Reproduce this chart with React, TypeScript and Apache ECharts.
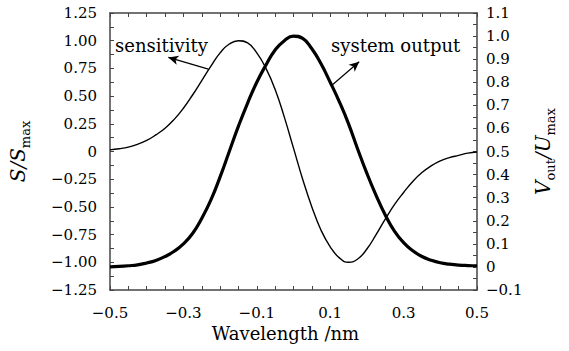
import React, { useEffect, useRef } from "react";
import * as echarts from "echarts";

// Wavelength (nm)
const wavelength = [
  -0.5, -0.475, -0.45, -0.425, -0.4, -0.375, -0.35, -0.325, -0.3, -0.275,
  -0.25, -0.225, -0.2, -0.175, -0.15, -0.125, -0.1, -0.075, -0.05, -0.025,
  0, 0.025, 0.05, 0.075, 0.1, 0.125, 0.15, 0.175, 0.2, 0.225,
  0.25, 0.275, 0.3, 0.325, 0.35, 0.375, 0.4, 0.425, 0.45, 0.475, 0.5,
];

// S/Smax (left axis)
const sensitivity = [
  0.015, 0.025, 0.04, 0.065, 0.1, 0.15, 0.21, 0.29, 0.39, 0.51,
  0.64, 0.77, 0.89, 0.97, 1.0, 0.98, 0.89, 0.75, 0.56, 0.31,
  0.03, -0.25, -0.5, -0.71, -0.86, -0.96, -1.0, -0.97, -0.88, -0.75,
  -0.61, -0.48, -0.37, -0.27, -0.19, -0.13, -0.085, -0.055, -0.035, -0.015, -0.005,
];

// Vout/Umax (right axis)
const systemOutput = [
  0.0, 0.002, 0.005, 0.009, 0.017, 0.028, 0.045, 0.068, 0.1, 0.145,
  0.21, 0.29, 0.39, 0.5, 0.61, 0.71, 0.8, 0.875, 0.94, 0.98,
  1.0, 0.99, 0.945, 0.88, 0.8, 0.715, 0.62, 0.51, 0.405, 0.31,
  0.225, 0.155, 0.105, 0.07, 0.045, 0.029, 0.018, 0.012, 0.008, 0.006, 0.005,
];

// Annotation arrows (data coordinates: tail, head)
const sensitivityArrow = [[-0.232, 0.744], [-0.341, 0.849]];
const outputArrow = [[0.107, 0.79], [0.179, 0.889]];

const FONT = '"DejaVu Serif", serif';
const INK = "#000";
const AXIS = "#444";
const minus = (s: string) => s.replace("-", "\u2212");

export default function App() {
  const ref = useRef<HTMLDivElement>(null);
  useEffect(() => {
    const chart = echarts.init(ref.current!, null, { renderer: "svg" });
    const axisLine = { show: true, onZero: false, lineStyle: { color: AXIS, width: 1.5 } };
    const axisTick = { show: true, inside: true, length: 4, lineStyle: { color: AXIS, width: 1 } };
    const nameRich = {
      i: { fontFamily: FONT, fontStyle: "italic", fontSize: 20, lineHeight: 28, verticalAlign: "middle", color: INK },
      sub: { fontFamily: FONT, fontSize: 13, lineHeight: 28, verticalAlign: "bottom", color: INK },
    };
    chart.setOption({
      animation: false,
      backgroundColor: "#fff",
      grid: { left: 107, right: 92, top: 13, bottom: 61 },
      xAxis: [
        {
          type: "value",
          min: -0.5,
          max: 0.5,
          interval: 0.05,
          position: "bottom",
          axisLine,
          axisTick,
          splitLine: { show: false },
          axisLabel: {
            fontFamily: FONT,
            fontSize: 15,
            color: INK,
            margin: 15,
            formatter: (v: number) => {
              const k = Math.round((v + 0.5) / 0.05);
              if (k % 4 !== 0) return "";
              return minus((-0.5 + k * 0.05).toFixed(1));
            },
          },
          name: "Wavelength /nm",
          nameLocation: "middle",
          nameGap: 34,
          nameTextStyle: { fontFamily: FONT, fontSize: 18, color: INK, padding: [0, 16, 0, 0] },
        },
        {
          type: "value",
          min: -0.5,
          max: 0.5,
          interval: 0.05,
          position: "top",
          axisLine,
          axisTick,
          splitLine: { show: false },
          axisLabel: { show: false },
        },
      ],
      yAxis: [
        {
          type: "value",
          min: -1.25,
          max: 1.25,
          interval: 0.125,
          position: "left",
          axisLine,
          axisTick,
          splitLine: { show: false },
          axisLabel: {
            fontFamily: FONT,
            fontSize: 15,
            color: INK,
            margin: 13,
            formatter: (v: number) => {
              const k = Math.round(v / 0.125);
              if (k % 2 !== 0) return "";
              const val = k / 8;
              if (val === 0) return "0";
              return minus(val.toFixed(2));
            },
          },
          name: "{i|S/S}{sub|max}",
          nameLocation: "middle",
          nameRotate: 90,
          nameGap: 78,
          nameTextStyle: { rich: nameRich },
        },
        {
          type: "value",
          min: -0.1,
          max: 1.1,
          interval: 0.05,
          position: "right",
          axisLine,
          axisTick,
          splitLine: { show: false },
          axisLabel: {
            fontFamily: FONT,
            fontSize: 15,
            color: INK,
            margin: 9,
            formatter: (v: number) => {
              const k = Math.round(v / 0.05);
              if (k % 2 !== 0) return "";
              const val = k / 20;
              if (val === 0) return "0";
              return minus(val.toFixed(1));
            },
          },
          name: "{i|V}{sub|out}{i|/U}{sub|max}",
          nameLocation: "middle",
          nameRotate: 90,
          nameGap: 44,
          nameTextStyle: { rich: nameRich },
        },
      ],
      series: [
        {
          name: "sensitivity",
          type: "line",
          xAxisIndex: 0,
          yAxisIndex: 0,
          data: wavelength.map((w, i) => [w, sensitivity[i]]),
          smooth: true,
          symbol: "none",
          lineStyle: { color: INK, width: 1.4 },
          markLine: {
            silent: true,
            symbol: ["none", "arrow"],
            symbolSize: [7, 10],
            label: { show: false },
            lineStyle: { color: INK, width: 1.2, type: "solid" },
            data: [[{ coord: sensitivityArrow[0] }, { coord: sensitivityArrow[1] }]],
          },
        },
        {
          name: "system output",
          type: "line",
          xAxisIndex: 0,
          yAxisIndex: 1,
          data: wavelength.map((w, i) => [w, systemOutput[i]]),
          smooth: true,
          symbol: "none",
          lineStyle: { color: INK, width: 3.2 },
          markLine: {
            silent: true,
            symbol: ["none", "arrow"],
            symbolSize: [7, 10],
            label: { show: false },
            lineStyle: { color: INK, width: 1.2, type: "solid" },
            data: [[{ coord: outputArrow[0] }, { coord: outputArrow[1] }]],
          },
        },
      ],
      graphic: [
        {
          type: "text",
          x: 115,
          y: 45,
          style: { text: "sensitivity", font: `18px ${FONT}`, fill: INK, verticalAlign: "middle" },
        },
        {
          type: "text",
          x: 331,
          y: 45,
          style: { text: "system output", font: `18px ${FONT}`, fill: INK, verticalAlign: "middle" },
        },
      ],
    });
    return () => chart.dispose();
  }, []);
  return (
    <div
      ref={ref}
      style={{ position: "fixed", left: 0, top: 0, width: 569, height: 351, background: "#fff" }}
    />
  );
}
